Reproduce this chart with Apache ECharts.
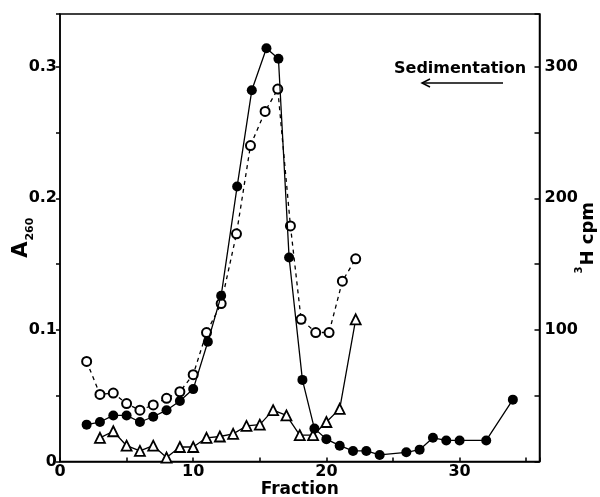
<!DOCTYPE html>
<html><head><meta charset="utf-8">
<script src="https://cdn.jsdelivr.net/npm/echarts@6/dist/echarts.min.js"></script>
<style>html,body{margin:0;padding:0;background:#fff}#c{width:600px;height:497px}</style>
</head><body><div id="c"></div>
<script>
// Filled circles, solid line: A260 (left axis)
const fractionsA = [2,3,4,5,6,7,8,9,10,11.1,12.1,13.3,14.4,15.5,16.4,17.2,18.2,19.1,20,21,22,23,24,26,27,28,29,30,32,34];
const a260 = [0.028,0.030,0.035,0.035,0.030,0.034,0.039,0.046,0.055,0.091,0.126,0.209,0.282,0.314,0.306,0.155,0.062,0.025,0.017,0.012,0.008,0.008,0.005,0.007,0.009,0.018,0.016,0.016,0.016,0.047];
// Open circles, dashed line: 3H cpm (right axis)
const fractionsO = [2,3,4,5,6,7,8,9,10,11,12.1,13.25,14.3,15.4,16.35,17.3,18.1,19.2,20.2,21.2,22.2];
const cpmOpen = [76,51,52,44,39,43,48,53,66,98,120,173,240,266,283,179,108,98,98,137,154];
// Open triangles, solid line: 3H cpm (right axis)
const fractionsT = [3,4,5,6,7,8,9,10,11,12,13,14,15,16,17,18,19,20,21,22.2];
const cpmTri = [18,23,12,8,12,3,11,11,18,19,21,27,28,39,35,20,20,30,40,108];

const xTickLabels = [0,10,20,30];
const leftTickLabels = [0,0.1,0.2,0.3];
const rightTickLabels = [100,200,300];

const F = 'DejaVu Sans';
const pairs = (xs, ys) => xs.map((x, i) => [x, ys[i]]);
const near = (v, list) => list.some(t => Math.abs(v - t) < 1e-6);

const chart = echarts.init(document.getElementById('c'));
chart.setOption({
  animation: false,
  grid: {left: 60, right: 60.5, top: 14, bottom: 35.5, show: true, borderColor: '#000', borderWidth: 1.5,
         backgroundColor: 'transparent', outerBoundsMode: 'none', containLabel: false},
  xAxis: {
    type: 'value', min: 0, max: 36, interval: 5,
    name: 'Fraction', nameLocation: 'middle', nameGap: 20, nameMoveOverlap: false,
    nameTextStyle: {fontFamily: F, fontWeight: 'bold', fontSize: 17, color: '#000', verticalAlign: 'top'},
    axisLine: {show: true, lineStyle: {color: '#000', width: 1.5}},
    axisTick: {show: true, inside: true, length: 4, lineStyle: {color: '#000', width: 1.5}},
    axisLabel: {margin: 2, fontFamily: F, fontWeight: 'bold', fontSize: 16, color: '#000',
      formatter: v => near(v, xTickLabels) ? String(Math.round(v)) : ''},
    splitLine: {show: false}
  },
  yAxis: [{
    type: 'value', min: 0, max: 0.34, interval: 0.05, position: 'left',
    name: '{a|A}{s|260}', nameLocation: 'middle', nameGap: 28, nameRotate: 90, nameMoveOverlap: false,
    nameTextStyle: {rich: {
      a: {fontFamily: F, fontWeight: 'bold', fontSize: 21, color: '#000'},
      s: {fontFamily: F, fontWeight: 'bold', fontSize: 11, color: '#000', verticalAlign: 'bottom', padding: [0,0,-4,1]}
    }},
    axisLine: {show: true, lineStyle: {color: '#000', width: 1.5}},
    axisTick: {show: true, inside: false, length: 4, lineStyle: {color: '#000', width: 1.5}},
    axisLabel: {margin: 3, fontFamily: F, fontWeight: 'bold', fontSize: 16, color: '#000',
      formatter: v => near(v, leftTickLabels) ? (v === 0 ? '0' : v.toFixed(1)) : ''},
    splitLine: {show: false}
  }, {
    type: 'value', min: 0, max: 340, interval: 50, position: 'right',
    name: '{s|3}{t|H cpm}', nameLocation: 'middle', nameGap: 40, nameRotate: 90, nameMoveOverlap: false,
    nameTextStyle: {rich: {
      s: {fontFamily: F, fontWeight: 'bold', fontSize: 10, color: '#000', verticalAlign: 'top', padding: [-5,1,0,0]},
      t: {fontFamily: F, fontWeight: 'bold', fontSize: 18, color: '#000'}
    }},
    axisLine: {show: true, lineStyle: {color: '#000', width: 1.5}},
    axisTick: {show: true, inside: true, length: 5, lineStyle: {color: '#000', width: 1.5}},
    axisLabel: {margin: 5, fontFamily: F, fontWeight: 'bold', fontSize: 16, color: '#000',
      formatter: v => near(v, rightTickLabels) ? String(v) : ''},
    splitLine: {show: false}
  }],
  graphic: [
    {type: 'text', left: 394, top: 61, style: {text: 'Sedimentation', fontFamily: F, fontWeight: 'bold', fontSize: 16, fill: '#000'}},
    {type: 'line', shape: {x1: 422, y1: 83, x2: 503, y2: 83}, style: {stroke: '#000', lineWidth: 1.5}},
    {type: 'polyline', shape: {points: [[430, 79], [422, 83], [430, 87]]}, style: {stroke: '#000', lineWidth: 1.5, fill: null}}
  ],
  series: [
    {type: 'line', yAxisIndex: 1, data: pairs(fractionsT, cpmTri), symbol: 'triangle', symbolSize: 10,
     itemStyle: {color: '#fff', borderColor: '#000', borderWidth: 1.8},
     lineStyle: {color: '#000', width: 1.3}, z: 3},
    {type: 'line', yAxisIndex: 1, data: pairs(fractionsO, cpmOpen), symbol: 'circle', symbolSize: 9,
     itemStyle: {color: '#fff', borderColor: '#000', borderWidth: 2},
     lineStyle: {color: '#000', width: 1.3, type: [4, 4]}, z: 4},
    {type: 'line', yAxisIndex: 0, data: pairs(fractionsA, a260), symbol: 'circle', symbolSize: 10,
     itemStyle: {color: '#000', borderColor: '#000', borderWidth: 0},
     lineStyle: {color: '#000', width: 1.3}, z: 5}
  ]
});
</script></body></html>
